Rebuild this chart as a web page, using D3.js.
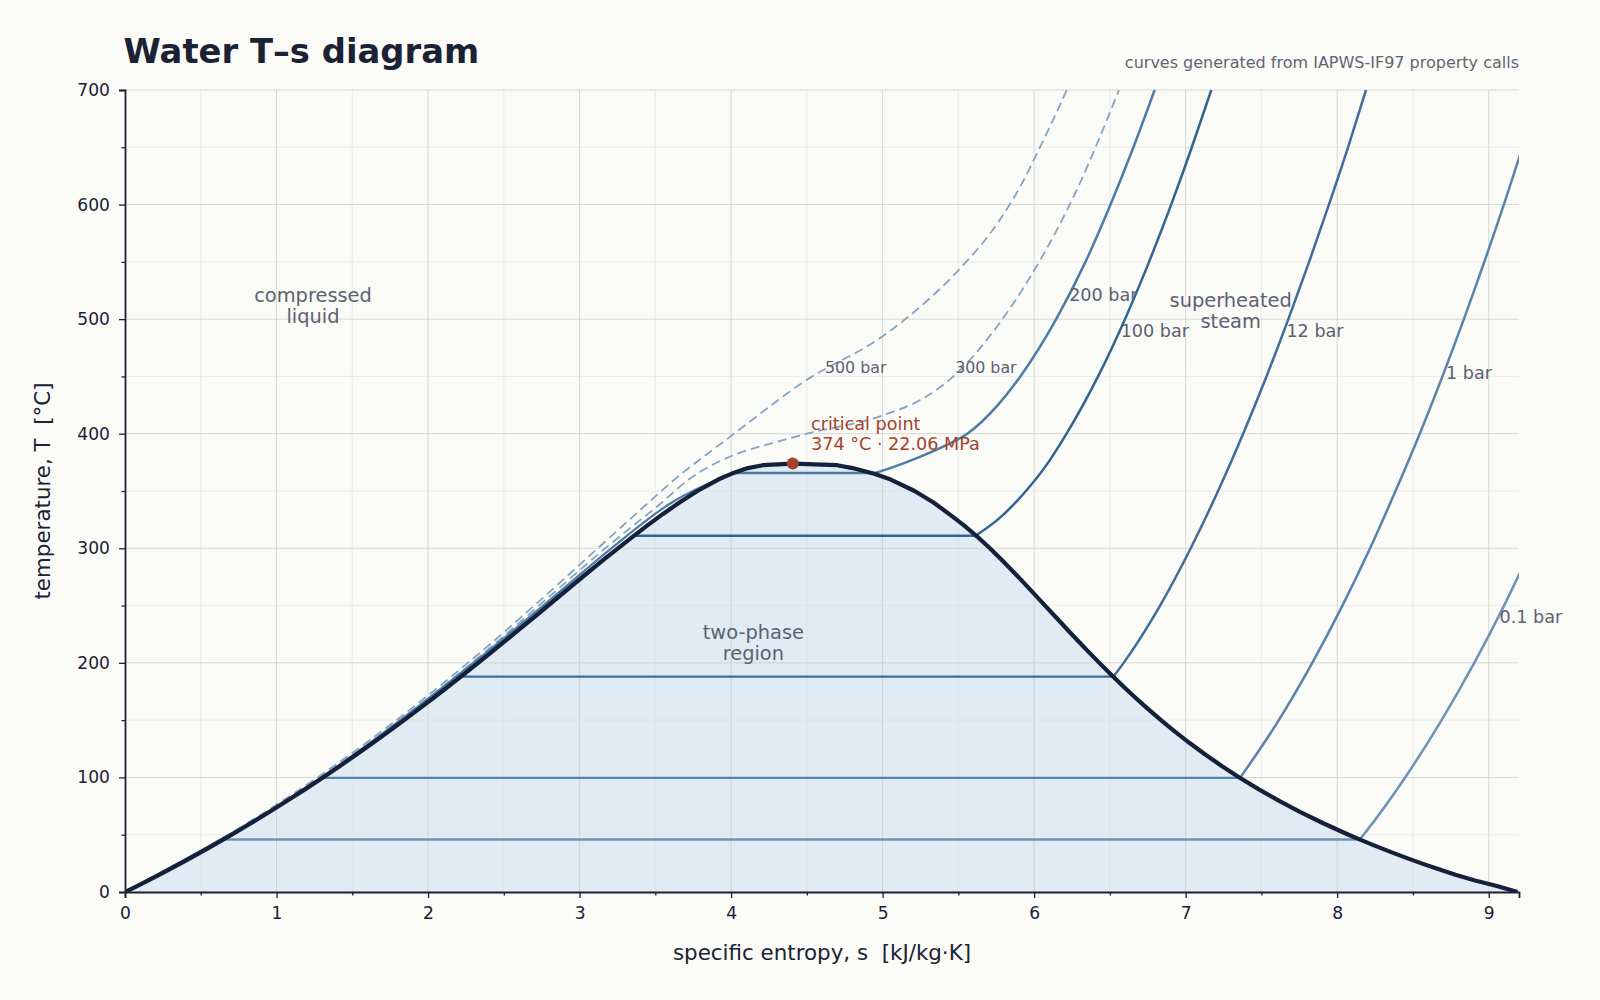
<!DOCTYPE html>
<html><head><meta charset="utf-8">
<script src="https://cdn.jsdelivr.net/npm/d3@7"></script>
<style>
html,body{margin:0;padding:0;background:#fafaf7;}
svg{display:block;font-family:"DejaVu Sans",sans-serif;}
text{white-space:pre;}
</style></head><body>
<svg id="chart" width="1600" height="1000"></svg>
<script>
// ---------- saturation dome ----------
const satT = [0.01,5,10,15,20,25,30,35,40,45,50,60,70,80,90,100,110,120,130,140,150,160,170,180,190,200,210,220,230,240,250,260,270,280,290,300,310,320,330,340,350,360,365,370,372.5];
const sLiquid = [0,0.0763,0.1511,0.2245,0.2965,0.3672,0.4368,0.5051,0.5724,0.6386,0.7038,0.8312,0.9550,1.0754,1.1927,1.3069,1.4185,1.5278,1.6346,1.7393,1.8420,1.9428,2.0419,2.1395,2.2358,2.3308,2.4248,2.5178,2.6099,2.7015,2.7927,2.8838,2.9751,3.0668,3.1594,3.2534,3.3493,3.4480,3.5507,3.6594,3.7777,3.9147,4.0012,4.1106,4.21];
const sVapor = [9.19,9.06,8.91,8.7803,8.6661,8.5566,8.4520,8.3517,8.2555,8.1633,8.0748,7.9081,7.7540,7.6111,7.4781,7.3541,7.2381,7.1291,7.0264,6.9293,6.8371,6.7491,6.6649,6.5840,6.5059,6.4302,6.3563,6.2840,6.2128,6.1423,6.0721,6.0018,5.9311,5.8592,5.7854,5.7081,5.6260,5.5373,5.4381,5.3357,5.2112,5.0537,4.9447,4.8012,4.70];
const critS = 4.407, critT = 373.95;

// ---------- subcritical isobars ----------
const isoNames = ["0.1 bar","1 bar","12 bar","100 bar","200 bar"];
const isoTsat  = [45.81, 99.61, 187.96, 311.0, 365.75];
const isoSf    = [0.6492, 1.3026, 2.2166, 3.3596, 4.0139];
const isoSg    = [8.1488, 7.3594, 6.5233, 5.6141, 4.95];
const isoColors = ["#6d93b4","#5983aa","#3f6d98","#33648f","#4c7ca6"];
const steamT = [
  [45.81,50,100,150,200,250,300],
  [99.61,150,200,250,300,350,400,500,600,700],
  [187.96,200,250,300,350,400,450,500,550,600,650,700],
  [311.0,325,350,375,400,450,500,550,600,650,700],
  [365.75,370,380,390,400,425,450,500,550,600,650,700]
];
const steamS = [
  [8.1488,8.1741,8.4489,8.6893,8.9049,9.1015,9.2827],
  [7.3594,7.6148,7.8356,8.0346,8.2172,8.385,8.5452,8.8362,9.0999,9.3424],
  [6.5233,6.5909,6.8313,7.0335,7.2139,7.3793,7.5335,7.6779,7.8148,7.9456,8.0717,8.1904],
  [5.6141,5.7596,5.9460,6.0937,6.2141,6.4219,6.5995,6.7585,6.9045,7.0408,7.1693],
  [4.95,5.05,5.25,5.42,5.5585,5.76,5.9089,6.1456,6.3390,6.5043,6.6553,6.7953]
];
// compressed-liquid branches of 100 and 200 bar
const liq100T = [0.01,100,200,260,300,311.0];
const liq100S = [0.0004,1.2996,2.3109,2.8664,3.2479,3.3596];
const liq200T = [0.01,100,200,260,300,340,365.75];
const liq200S = [0,1.2958,2.2999,2.8500,3.2100,3.6086,4.0139];

// ---------- supercritical isobars (dashed) ----------
const superNames = ["300 bar","500 bar"];
const p300T = [0.01,20,40,60,80,100,140,180,220,260,300,340,360,381,391,400,416,431,454,482,514,544,613,700];
const p300S = [0,0.2907,0.5625,0.8186,1.0606,1.2898,1.7158,2.1054,2.4700,2.8194,3.1697,3.5434,3.72,4.01,4.25,4.50,5.0,5.27,5.50,5.688,5.864,6.007,6.282,6.56];
const p500T = [0.01,20,40,60,80,100,140,180,220,260,300,340,357,397,447,485,518,544,585,621,645,697,700];
const p500S = [0,0.2836,0.5527,0.8052,1.0440,1.2703,1.6915,2.0794,2.4419,2.7860,3.1200,3.4557,3.60,3.99,4.50,5.0,5.31,5.51,5.765,5.93,6.02,6.205,6.215];

// ---------- labels ----------
const isoLabelS = [9.071, 8.718, 7.665, 6.571, 6.231];
const isoLabelT = [240, 452.7, 490, 490, 521];
const superLabelS = [5.479, 4.62];
const superLabelT = [457.6, 457.6];
const regionText = [["compressed","liquid"],["two-phase","region"],["superheated","steam"]];
const regionS = [1.241, 4.147, 7.297];
const regionT = [515, 221.2, 510.6];
const xTicks = [0,1,2,3,4,5,6,7,8,9];
const yTicks = [0,100,200,300,400,500,600,700];

// ---------- drawing ----------
const svg = d3.select("#chart");
const L = 125, R = 1519, T0 = 90, B = 892;
const x = d3.scaleLinear().domain([0,9.2]).range([L,R]);
const y = d3.scaleLinear().domain([0,700]).range([B,T0]);
const ink = "#1a2233", grey = "#5b6270";

svg.append("rect").attr("width",1600).attr("height",1000).attr("fill","#fafaf7");
svg.append("defs").append("clipPath").attr("id","plotclip")
  .append("rect").attr("x",L).attr("y",T0).attr("width",R-L).attr("height",B-T0);

const liqPts = satT.map((t,i)=>[sLiquid[i],t]);
const vapPts = satT.map((t,i)=>[sVapor[i],t]).reverse();
const domePts = liqPts.concat([[critS,critT]], vapPts);
const line = d3.line().x(d=>x(d[0])).y(d=>y(d[1]));
const smooth = d3.line().x(d=>x(d[0])).y(d=>y(d[1])).curve(d3.curveMonotoneX);

// dome fill
svg.append("path").attr("d", line(domePts.concat([[sVapor[0],0],[0,0]])) + "Z")
  .attr("fill","#e1ebf3").attr("stroke","none");

// grid
const grid = svg.append("g");
d3.range(0.5,9.2,0.5).forEach(v=>{
  const major = Math.abs(v-Math.round(v))<1e-6;
  grid.append("line").attr("x1",x(v)).attr("x2",x(v)).attr("y1",y(0)).attr("y2",y(700))
    .attr("stroke", major?"#c4c4bf":"#dededa").attr("stroke-opacity", major?0.65:0.5).attr("stroke-width",1);
});
d3.range(50,701,50).forEach(v=>{
  const major = v%100===0;
  grid.append("line").attr("x1",x(0)).attr("x2",x(9.2)).attr("y1",y(v)).attr("y2",y(v))
    .attr("stroke", major?"#c4c4bf":"#dededa").attr("stroke-opacity", major?0.65:0.5).attr("stroke-width",1);
});

const plot = svg.append("g").attr("clip-path","url(#plotclip)");

// dashed supercritical isobars
[[p300T,p300S],[p500T,p500S]].forEach(([tt,ss])=>{
  plot.append("path").attr("d", smooth(tt.map((t,i)=>[ss[i],t])))
    .attr("fill","none").attr("stroke","#86a4bf").attr("stroke-width",1.8)
    .attr("stroke-dasharray","9,5");
});

// liquid branches
[[liq100T,liq100S,3],[liq200T,liq200S,4]].forEach(([tt,ss,k])=>{
  plot.append("path").attr("d", smooth(tt.map((t,i)=>[ss[i],t])))
    .attr("fill","none").attr("stroke",isoColors[k]).attr("stroke-width",2.2);
});

// subcritical isobars
isoNames.forEach((n,k)=>{
  plot.append("line").attr("x1",x(isoSf[k])).attr("x2",x(isoSg[k]))
    .attr("y1",y(isoTsat[k])).attr("y2",y(isoTsat[k]))
    .attr("stroke",isoColors[k]).attr("stroke-width",2.4);
  plot.append("path").attr("d", smooth(steamT[k].map((t,i)=>[steamS[k][i],t])))
    .attr("fill","none").attr("stroke",isoColors[k]).attr("stroke-width",2.5);
});

// dome line
plot.append("path").attr("d", line(domePts)).attr("fill","none")
  .attr("stroke","#15213a").attr("stroke-width",4.2).attr("stroke-linejoin","round");

// critical point
svg.append("circle").attr("cx",x(critS)).attr("cy",y(critT)).attr("r",6).attr("fill","#a4432a");
const ct = svg.append("text").attr("x",x(4.528)).attr("y",y(403.2))
  .attr("font-size",17.6).attr("fill","#a4432a");
ct.append("tspan").attr("x",x(4.528)).text("critical point");
ct.append("tspan").attr("x",x(4.528)).attr("dy",20).text("374 °C · 22.06 MPa");

// axes
const xAxis = svg.append("g").attr("transform",`translate(0,${B})`)
  .call(d3.axisBottom(x).tickValues(xTicks).tickFormat(d3.format("d")).tickSize(6).tickPadding(8.5));
const xMinor = svg.append("g").attr("transform",`translate(0,${B})`)
  .call(d3.axisBottom(x).tickValues(d3.range(0.5,9.2,1)).tickFormat("").tickSize(3.5));
xMinor.select(".domain").remove();
const yAxis = svg.append("g").attr("transform",`translate(${L},0)`)
  .call(d3.axisLeft(y).tickValues(yTicks).tickFormat(d3.format("d")).tickSize(6).tickPadding(9));
const yMinor = svg.append("g").attr("transform",`translate(${L},0)`)
  .call(d3.axisLeft(y).tickValues(d3.range(50,700,100)).tickFormat("").tickSize(3.5));
yMinor.select(".domain").remove();
[xAxis,yAxis,xMinor,yMinor].forEach(g=>{
  g.selectAll("text").attr("font-size",17.1).attr("fill",ink).attr("font-family","DejaVu Sans");
  g.selectAll("line").attr("stroke",ink).attr("stroke-width",1.3);
  g.selectAll(".domain").attr("stroke",ink).attr("stroke-width",1.8);
});

// isobar labels
isoNames.forEach((n,k)=>{
  svg.append("text").attr("x",x(isoLabelS[k])).attr("y",y(isoLabelT[k]))
    .attr("dominant-baseline","central").attr("font-size",17.6).attr("fill",grey).text(n);
});
superNames.forEach((n,k)=>{
  svg.append("text").attr("x",x(superLabelS[k])).attr("y",y(superLabelT[k]))
    .attr("dominant-baseline","central").attr("font-size",15.8).attr("fill",grey).text(n);
});

// region labels
regionText.forEach((lines,k)=>{
  const t = svg.append("text").attr("x",x(regionS[k])).attr("y",y(regionT[k]))
    .attr("text-anchor","middle").attr("font-size",19.4).attr("fill",grey);
  lines.forEach((s,i)=>t.append("tspan").attr("x",x(regionS[k])).attr("dy",i?21:0).text(s));
});

// titles
svg.append("text").attr("x",123.5).attr("y",63).attr("font-size",33.8).attr("font-weight","bold")
  .attr("fill",ink).text("Water T–s diagram");
svg.append("text").attr("x",R).attr("y",68).attr("text-anchor","end").attr("font-size",16)
  .attr("fill","#60666f").text("curves generated from IAPWS-IF97 property calls");
svg.append("text").attr("x",(L+R)/2).attr("y",960).attr("text-anchor","middle").attr("font-size",21.4)
  .attr("fill",ink).text("specific entropy, s  [kJ/kg·K]");
svg.append("text").attr("transform",`translate(50,${(T0+B)/2}) rotate(-90)`).attr("text-anchor","middle")
  .attr("font-size",21.4).attr("fill",ink).text("temperature, T  [°C]");
</script>
</body></html>
